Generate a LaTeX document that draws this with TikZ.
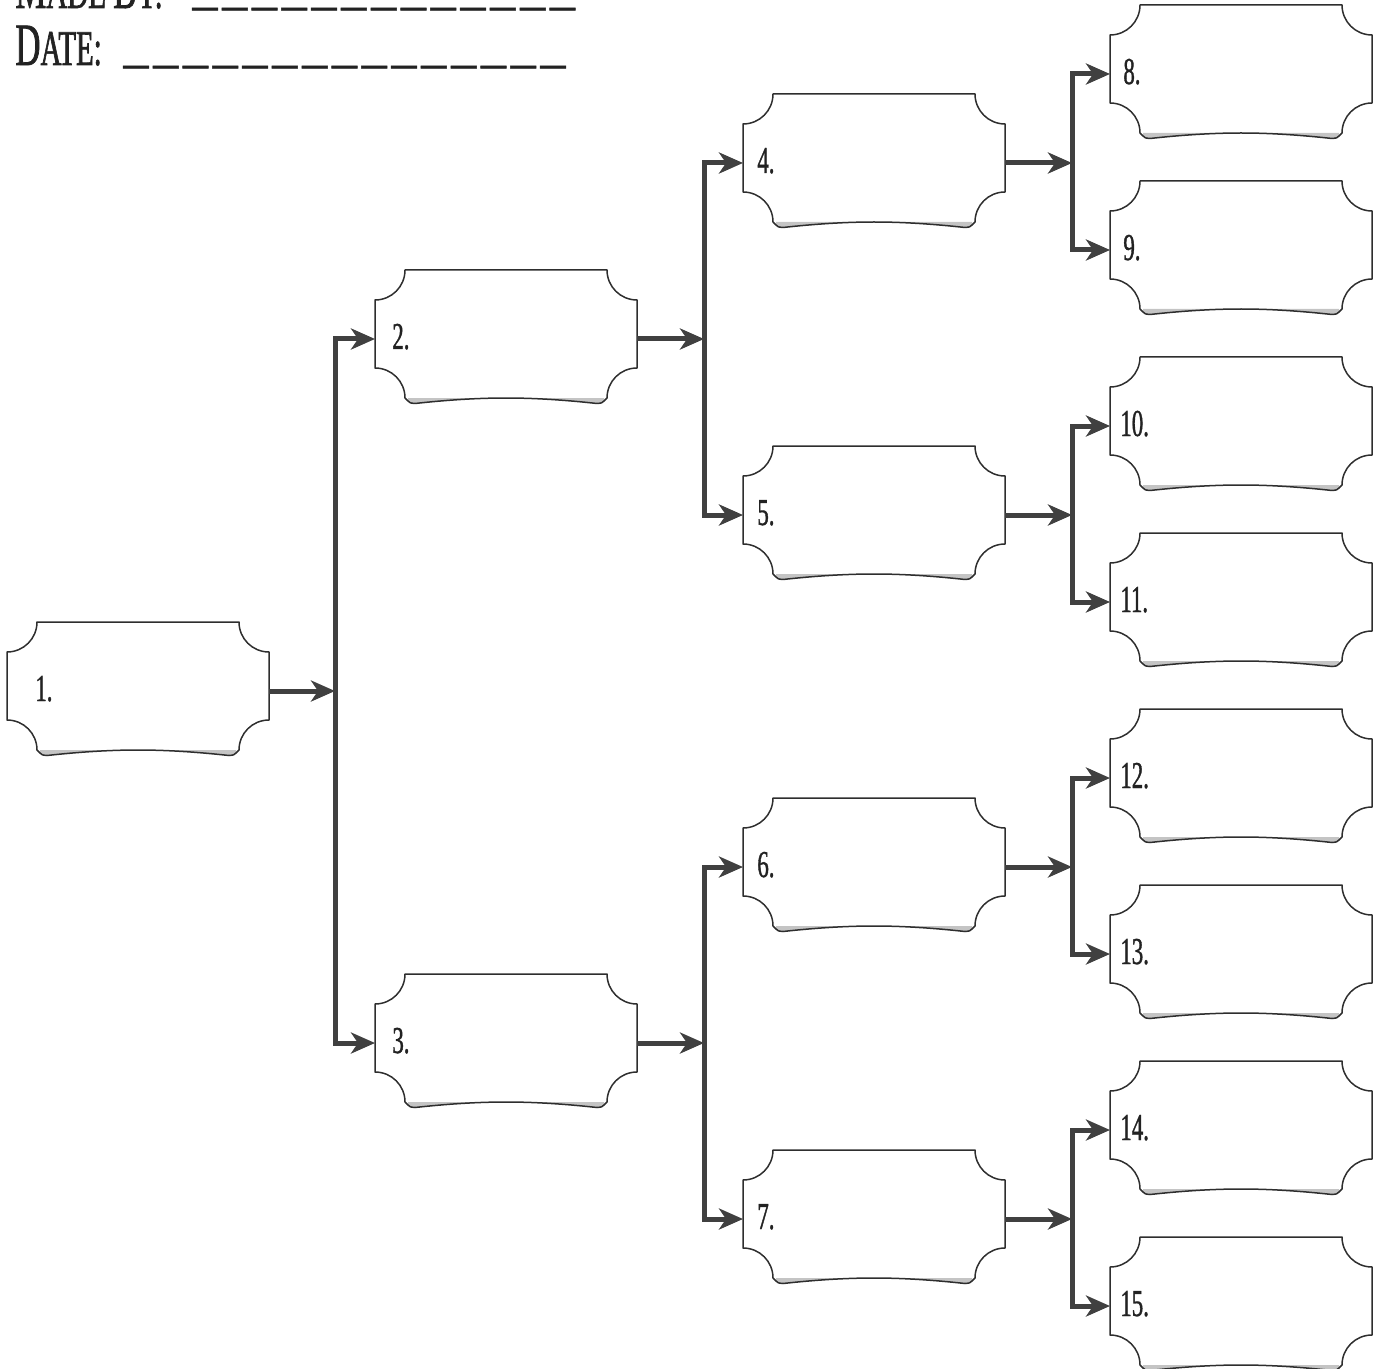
\documentclass[tikz,border=0pt]{standalone}
\usepackage{fontspec}
\setmainfont{Liberation Serif}
\newfontfamily\labfont[FakeStretch=0.6,FakeBold=1]{Liberation Serif}
\newfontfamily\headfont[FakeStretch=0.58,FakeBold=1.2]{Liberation Serif}
\newfontfamily\dashfont[FakeBold=1]{Liberation Serif}
\usetikzlibrary{arrows.meta,calc}
\definecolor{conncol}{HTML}{404040}
\definecolor{edgecol}{HTML}{2E2E2E}
\definecolor{curlcol}{HTML}{C4C4C4}
\definecolor{inkcol}{HTML}{222222}
\newcommand\hdL{\headfont\fontsize{30pt}{30pt}\selectfont}
\newcommand\hdS{\headfont\fontsize{25pt}{25pt}\selectfont}
\newcommand\blankdashes[1]{\foreach \i in {1,...,#1}{\_\kern2.4pt}}
\newcommand\cardshape[1]{%
 \begin{scope}[shift={(#1.north west)}]
  \fill[curlcol] (33,128) -- (229,128) -- (229,131) .. controls (227,133) .. (222,133.5)
    .. controls (190,130) and (160,128) .. (131,128)
    .. controls (102,128) and (72,130) .. (40,133.5)
    .. controls (35,133) .. (33,131) -- cycle;
  \draw[cardline] (30,0) -- (232,0)
    .. controls (232,16.6) and (245.4,30) .. (262,30) -- (262,98)
    .. controls (245.4,98) and (232,111.4) .. (232,128)
    -- (229,131) .. controls (227,133) .. (222,133.5)
    .. controls (190,130) and (160,128) .. (131,128)
    .. controls (102,128) and (72,130) .. (40,133.5)
    .. controls (35,133) .. (33,131) -- (30,128)
    .. controls (30,111.4) and (16.6,98) .. (0,98) -- (0,30)
    .. controls (16.6,30) and (30,16.6) .. (30,0) -- cycle;
 \end{scope}}
\tikzset{
  card/.style={minimum width=131pt, minimum height=64pt, inner sep=0pt, outer sep=0pt},
  cardline/.style={draw=edgecol, line width=0.75pt, line join=round},
  lab/.style={inner sep=0pt, text=inkcol, font=\labfont\fontsize{19pt}{19pt}\selectfont},
  feed/.style={draw=conncol, line width=2.5pt, -{Stealth[length=12pt,width=10.5pt,inset=3.5pt]}},
  branch/.style={draw=conncol, line width=2.5pt, {Stealth[length=12pt,width=10.5pt,inset=3.5pt]}-{Stealth[length=12pt,width=10.5pt,inset=3.5pt]}},
}
\begin{document}
\begin{tikzpicture}[x=0.5pt,y=-0.5pt]
\useasboundingbox (0,0) rectangle (1380,1369);
% header
\node[anchor=base west, inner sep=0pt, text=inkcol] (madeby) at (15,8) {\hdL M\hdS ADE \hdL B\hdS Y:};
\node[anchor=base west, inner sep=0pt, text=inkcol] (madefill) at (192,4) {\dashfont\fontsize{25pt}{25pt}\selectfont\blankdashes{13}};
\node[anchor=base west, inner sep=0pt, text=inkcol] (date) at (15,65) {\hdL D\hdS ATE:};
\node[anchor=base west, inner sep=0pt, text=inkcol] (datefill) at (123,62) {\dashfont\fontsize{25pt}{25pt}\selectfont\blankdashes{15}};
% cards
\foreach \n/\x/\y/\o in {1/7/622/28, 2/375/270/17, 3/375/974/17,
  4/743/94/14, 5/743/446/14, 6/743/798/14, 7/743/1150/14,
  8/1110/5/13, 9/1110/181/13, 10/1110/357/10, 11/1110/533/10,
  12/1110/709/10, 13/1110/885/10, 14/1110/1061/10, 15/1110/1237/10}{
  \node[card] (b\n) at (\x+131,\y+64) {};
  \cardshape{b\n}
  \node[lab, anchor=base west] (l\n) at ($(b\n.north west)+(\o,79)$) {\n.};
}
% junctions
\coordinate (j1) at (335,691);
\coordinate (j2) at (704,339);
\coordinate (j3) at (704,1043);
\coordinate (j4) at (1072,163);
\coordinate (j5) at (1072,515);
\coordinate (j6) at (1072,867);
\coordinate (j7) at (1072,1219);
% feeds
\draw[feed] ($(b1.east)+(0,5)$) -- (j1);
\draw[feed] ($(b2.east)+(0,5)$) -- (j2);
\draw[feed] ($(b3.east)+(0,5)$) -- (j3);
\draw[feed] ($(b4.east)+(0,5)$) -- (j4);
\draw[feed] ($(b5.east)+(0,5)$) -- (j5);
\draw[feed] ($(b6.east)+(0,5)$) -- (j6);
\draw[feed] ($(b7.east)+(0,5)$) -- (j7);
% branches
\draw[branch] ($(b2.west)+(0,5)$) -| (j1) |- ($(b3.west)+(0,5)$);
\draw[branch] ($(b4.west)+(0,5)$) -| (j2) |- ($(b5.west)+(0,5)$);
\draw[branch] ($(b6.west)+(0,5)$) -| (j3) |- ($(b7.west)+(0,5)$);
\draw[branch] ($(b8.west)+(0,5)$) -| (j4) |- ($(b9.west)+(0,5)$);
\draw[branch] ($(b10.west)+(0,5)$) -| (j5) |- ($(b11.west)+(0,5)$);
\draw[branch] ($(b12.west)+(0,5)$) -| (j6) |- ($(b13.west)+(0,5)$);
\draw[branch] ($(b14.west)+(0,5)$) -| (j7) |- ($(b15.west)+(0,5)$);
\end{tikzpicture}
\end{document}
